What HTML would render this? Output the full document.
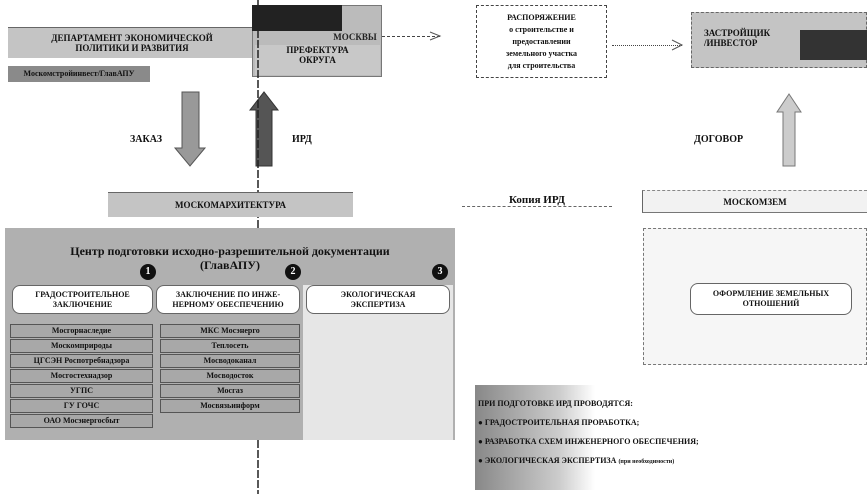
<!DOCTYPE html>
<html><head><meta charset="utf-8"><style>
body{margin:0;width:867px;height:494px;background:#fff;position:relative;overflow:hidden;font-family:"Liberation Serif","Noto Serif CJK SC",serif;font-weight:bold;color:#111}
.a{position:absolute;box-sizing:border-box}
.g{background:#c4c4c4}
.dg{background:#8a8a8a}
.t{font-size:9px;text-align:center;line-height:10px}
.row{position:absolute;height:14px;border:1px solid #555;background:#a8a8a8;font-size:8px;text-align:center;line-height:12px;box-sizing:border-box}
.c{position:absolute;width:16px;height:16px;border-radius:50%;background:#111;color:#fff;font-size:10px;text-align:center;line-height:16px}
.hd{position:absolute;background:#fff;border:1px solid #666;border-radius:8px;font-size:8px;text-align:center;line-height:10px;box-sizing:border-box;padding-top:4px}
</style></head><body>
<div class="a g t" style="left:8px;top:27px;width:248px;height:31px;padding-top:5px;border-top:1px solid #666">ДЕПАРТАМЕНТ ЭКОНОМИЧЕСКОЙ<br>ПОЛИТИКИ И РАЗВИТИЯ</div>
<div class="a dg t" style="left:8px;top:66px;width:142px;height:16px;font-size:8px;line-height:16px">Москомстройинвест/ГлавАПУ</div>
<div class="a" style="left:252px;top:5px;width:130px;height:72px;border:1px solid #777;background:#bbb"></div>
<div class="a" style="left:252px;top:5px;width:90px;height:26px;background:#222"></div>
<div class="a t" style="left:330px;top:32px;width:50px;font-size:9px;color:#222">МОСКВЫ</div>
<div class="a t" style="left:255px;top:45px;width:125px;height:30px;background:#c8c8c8;font-size:9px">ПРЕФЕКТУРА<br>ОКРУГА</div>
<div class="a" style="left:382px;top:36px;width:58px;border-top:1px dashed #444"></div>
<div class="a t" style="left:476px;top:5px;width:131px;height:73px;border:1px dashed #444;font-size:8px;padding-top:6px;line-height:12px">РАСПОРЯЖЕНИЕ<br>о строительстве и<br>предоставлении<br>земельного участка<br>для строительства</div>
<div class="a" style="left:612px;top:45px;width:70px;border-top:1px dotted #444"></div>
<div class="a g t" style="left:691px;top:12px;width:176px;height:56px;border:1px dashed #666;text-align:left;padding:15px 0 0 12px;font-size:9px">ЗАСТРОЙЩИК<br>/ИНВЕСТОР</div>
<div class="a" style="left:800px;top:30px;width:67px;height:30px;background:#333"></div>
<svg class="a" style="left:0;top:0" width="867" height="494">
<polygon points="182,92 199,92 199,148 205,148 190,166 175,148 182,148" fill="#999" stroke="#555"/>
<polygon points="256,166 272,166 272,110 278,110 264,92 250,110 256,110" fill="#555" stroke="#333"/>
<polygon points="783,166 795,166 795,112 801,112 789,94 777,112 783,112" fill="#ccc" stroke="#777"/>
<line x1="258" y1="0" x2="258" y2="494" stroke="#222" stroke-width="1.5" stroke-dasharray="8 2"/>
<polyline points="430,32 440,36 430,40" fill="none" stroke="#555"/>
<polyline points="672,40 682,45 672,50" fill="none" stroke="#555"/>
</svg>
<div class="a" style="left:130px;top:134px;font-size:10px">ЗАКАЗ</div>
<div class="a" style="left:292px;top:134px;font-size:10px">ИРД</div>
<div class="a" style="left:694px;top:134px;font-size:10px">ДОГОВОР</div>
<div class="a g t" style="left:108px;top:192px;width:245px;height:25px;border-top:1px solid #666;line-height:24px">МОСКОМАРХИТЕКТУРА</div>
<div class="a" style="left:5px;top:228px;width:450px;height:212px;background:#b0b0b0"></div>
<div class="a" style="left:303px;top:285px;width:150px;height:155px;background:#e6e6e6"></div>
<div class="a t" style="left:10px;top:244px;width:440px;font-size:12px;line-height:14px">Центр подготовки исходно-разрешительной документации<br>(ГлавАПУ)</div>
<div class="c" style="left:140px;top:264px">1</div>
<div class="c" style="left:285px;top:264px">2</div>
<div class="c" style="left:432px;top:264px">3</div>
<div class="hd" style="left:12px;top:285px;width:141px;height:29px">ГРАДОСТРОИТЕЛЬНОЕ<br>ЗАКЛЮЧЕНИЕ</div>
<div class="hd" style="left:156px;top:285px;width:144px;height:29px">ЗАКЛЮЧЕНИЕ ПО ИНЖЕ-<br>НЕРНОМУ ОБЕСПЕЧЕНИЮ</div>
<div class="hd" style="left:306px;top:285px;width:144px;height:29px">ЭКОЛОГИЧЕСКАЯ<br>ЭКСПЕРТИЗА</div>
<div class="row" style="left:10px;top:324px;width:143px">Мосгорнаследие</div>
<div class="row" style="left:10px;top:339px;width:143px">Москомприроды</div>
<div class="row" style="left:10px;top:354px;width:143px">ЦГСЭН Роспотребнадзора</div>
<div class="row" style="left:10px;top:369px;width:143px">Мосгостехнадзор</div>
<div class="row" style="left:10px;top:384px;width:143px">УГПС</div>
<div class="row" style="left:10px;top:399px;width:143px">ГУ ГОЧС</div>
<div class="row" style="left:10px;top:414px;width:143px">ОАО Мосэнергосбыт</div>
<div class="row" style="left:160px;top:324px;width:140px">МКС Мосэнерго</div>
<div class="row" style="left:160px;top:339px;width:140px">Теплосеть</div>
<div class="row" style="left:160px;top:354px;width:140px">Мосводоканал</div>
<div class="row" style="left:160px;top:369px;width:140px">Мосводосток</div>
<div class="row" style="left:160px;top:384px;width:140px">Мосгаз</div>
<div class="row" style="left:160px;top:399px;width:140px">Мосвязьинформ</div>
<div class="a" style="left:462px;top:194px;width:150px;font-size:11px;text-align:center;border-bottom:1px dashed #666">Копия ИРД</div>
<div class="a t" style="left:642px;top:190px;width:225px;height:23px;border-left:1px solid #666;border-top:1px dashed #888;border-bottom:1px solid #777;line-height:22px;background:#f2f2f2">МОСКОМЗЕМ</div>
<div class="a" style="left:643px;top:228px;width:224px;height:137px;border:1px dashed #777;background:#f6f6f6"></div>
<div class="a hd" style="left:690px;top:283px;width:162px;height:32px;padding-top:5px">ОФОРМЛЕНИЕ ЗЕМЕЛЬНЫХ<br>ОТНОШЕНИЙ</div>
<div class="a" style="left:475px;top:385px;width:120px;height:105px;background:linear-gradient(90deg,#888,#ccc 70%,#fff)"></div>
<div class="a" style="left:478px;top:394px;font-size:8px;line-height:19px;font-weight:bold">ПРИ ПОДГОТОВКЕ ИРД ПРОВОДЯТСЯ:<br>&#9679; ГРАДОСТРОИТЕЛЬНАЯ ПРОРАБОТКА;<br>&#9679; РАЗРАБОТКА СХЕМ ИНЖЕНЕРНОГО ОБЕСПЕЧЕНИЯ;<br>&#9679; ЭКОЛОГИЧЕСКАЯ ЭКСПЕРТИЗА <span style="font-size:6px">(при необходимости)</span></div>
</body></html>
